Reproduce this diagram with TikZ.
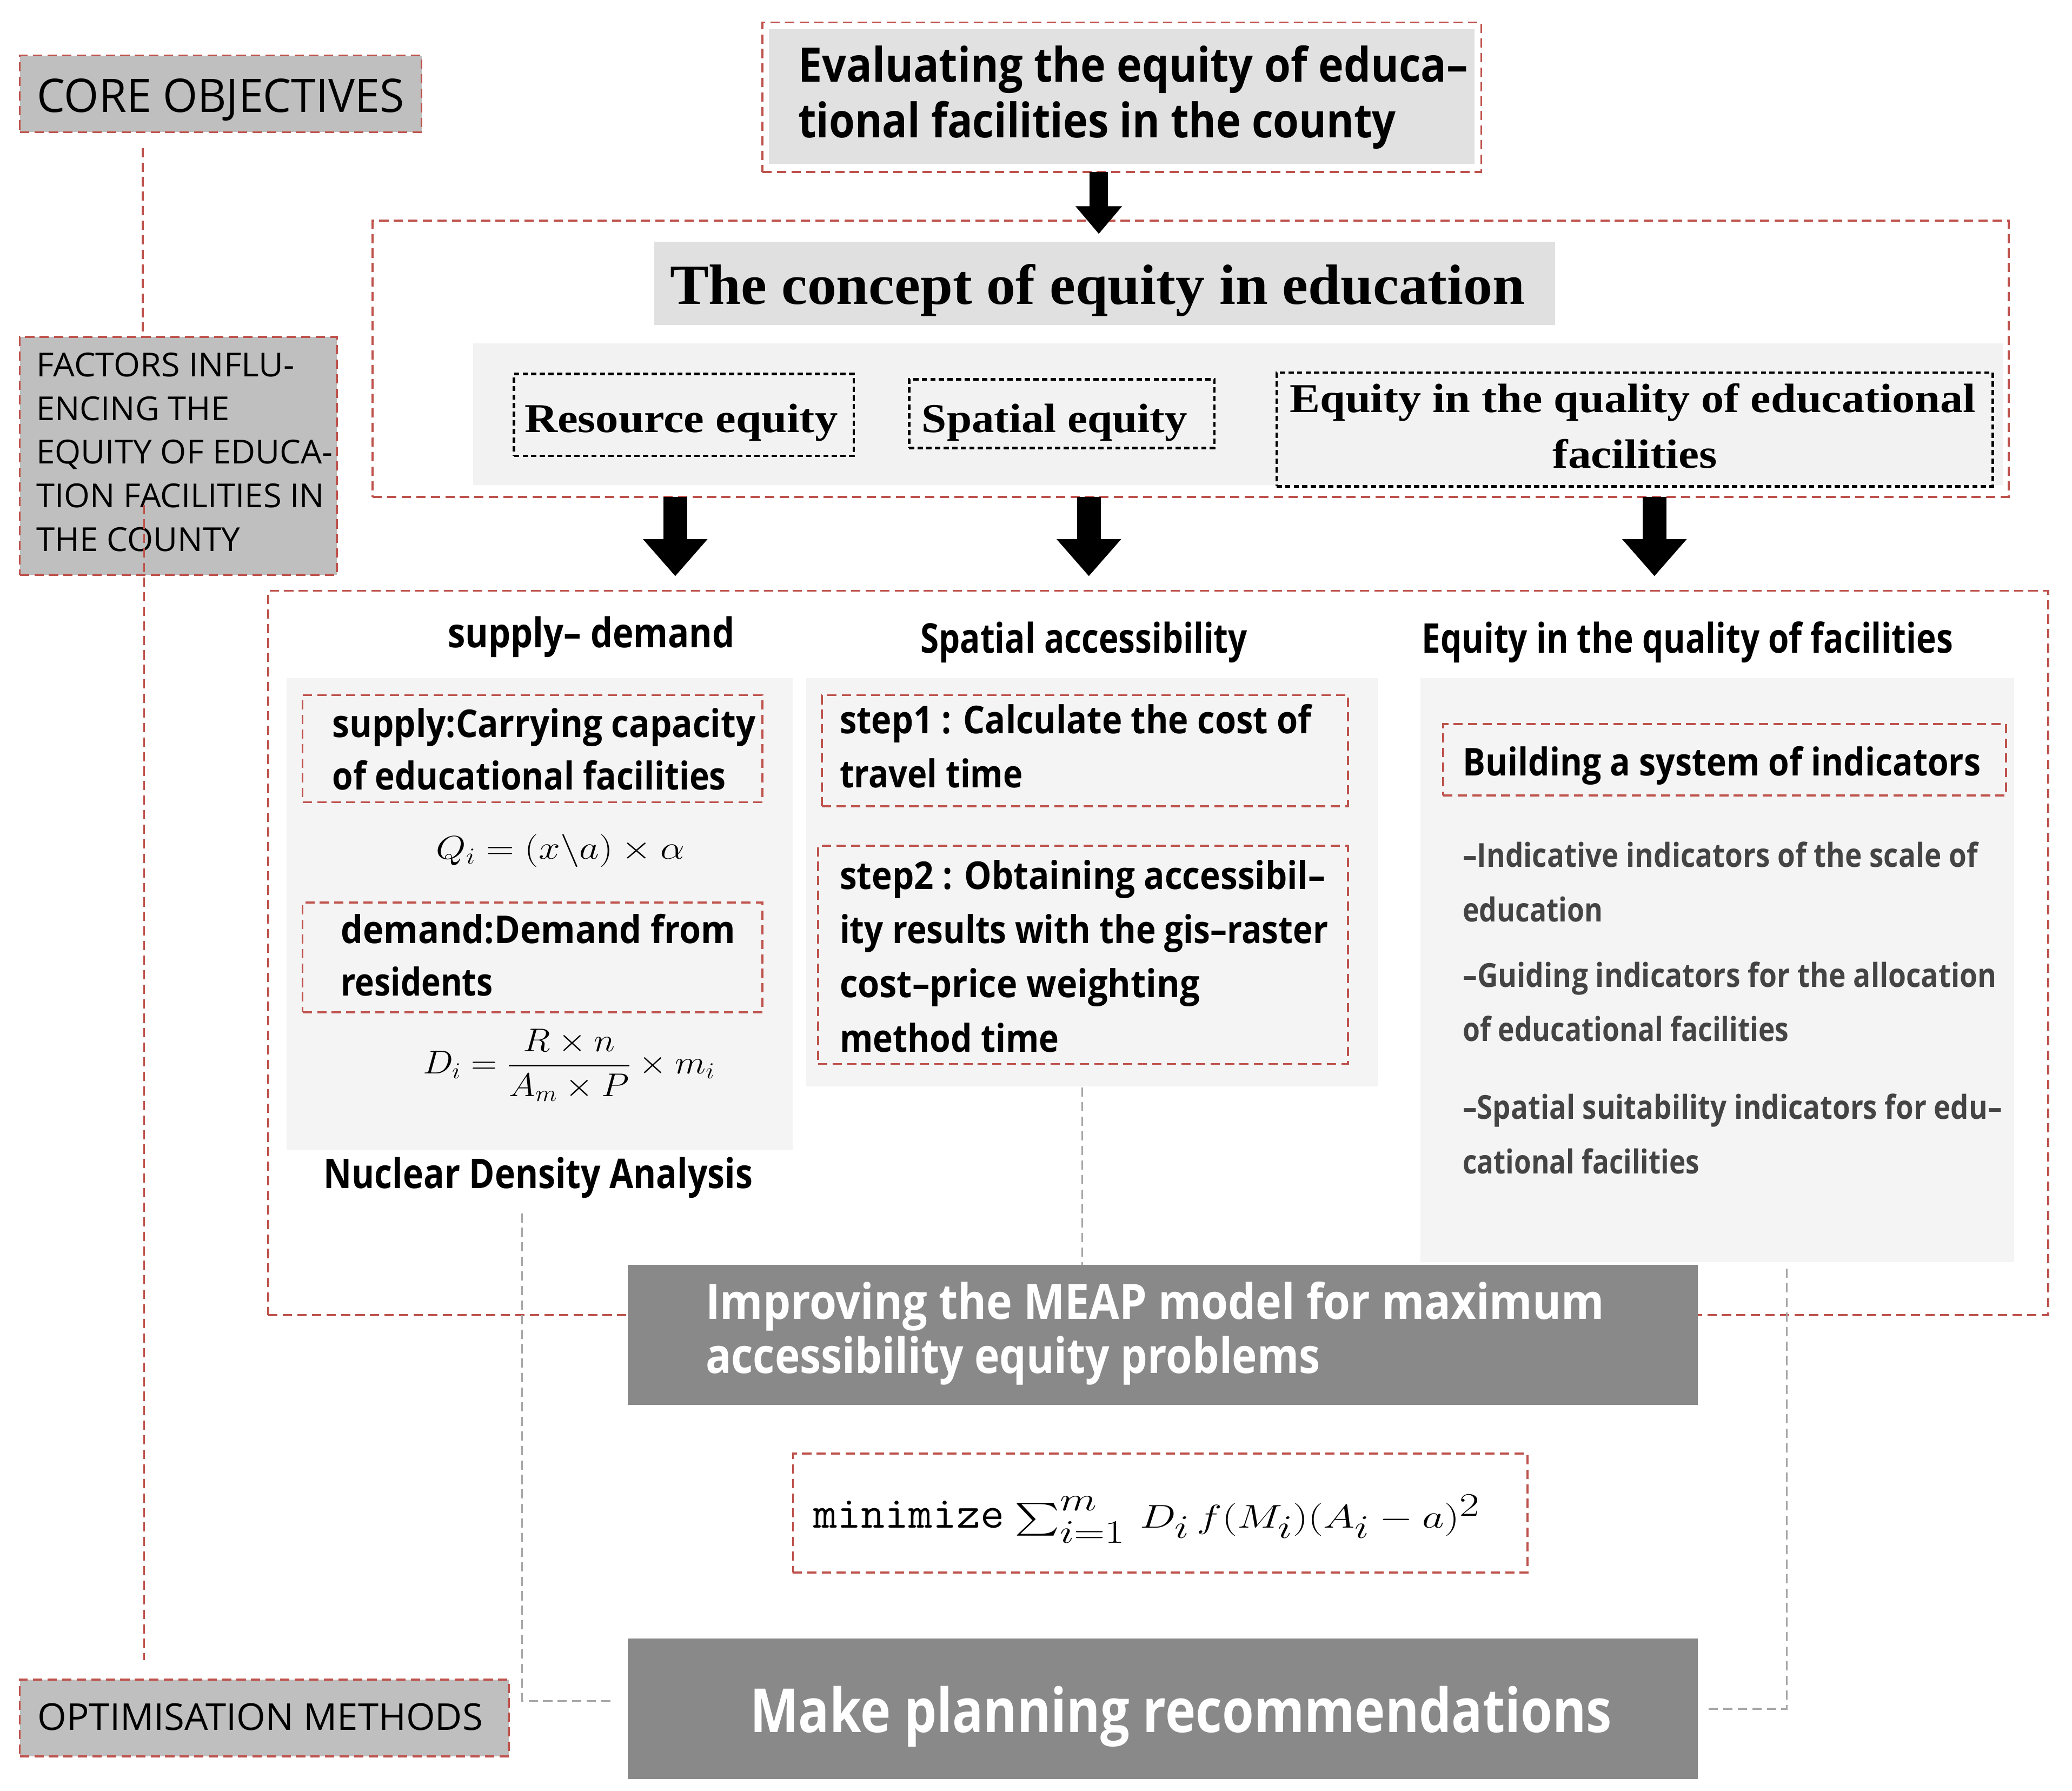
\documentclass[tikz,border=0pt]{standalone}
\usepackage{fontspec}
\usepackage{amsmath}
\usepackage{graphicx}
\usetikzlibrary{arrows.meta}
\newfontfamily\osans{Open Sans}
\newfontfamily\lserif{Liberation Serif}
\definecolor{redd}{RGB}{190,82,76}
\definecolor{labfill}{RGB}{191,191,191}
\definecolor{evalfill}{RGB}{225,225,225}
\definecolor{titlefill}{RGB}{224,224,224}
\definecolor{panelfill}{RGB}{242,242,242}
\definecolor{colfill}{RGB}{244,244,244}
\definecolor{darkfill}{RGB}{137,137,137}
\definecolor{gline}{RGB}{166,166,166}
\definecolor{indtext}{RGB}{68,68,68}
% style, name, left x, baseline y, right x, text
\newcommand\fitline[6]{\node[#1] (#2) at (#3,#4) {\resizebox{\dimexpr #5pt-#3pt\relax}{\height}{#6}};}
% style, name, x1, y1, x2, y2
\newcommand\boxat[6]{\node[#1, anchor=north west, inner sep=0pt, outer sep=0pt,
  minimum width={(#5-#3)*1pt}, minimum height={(#6-#4)*1pt}] (#2) at (#3,#4) {};}
\begin{document}
\begin{tikzpicture}[x=1pt,y=-1pt,
  txtbase/.style={anchor=base west, inner sep=0pt, outer sep=0pt},
  labA/.style={txtbase, font=\osans\fontsize{35}{40}\selectfont},
  labB/.style={txtbase, font=\osans\fontsize{25}{30}\selectfont},
  labC/.style={txtbase, font=\osans\fontsize{28}{32}\selectfont},
  evalt/.style={txtbase, font=\osans\bfseries\fontsize{36}{40}\selectfont},
  conct/.style={txtbase, font=\lserif\bfseries\fontsize{43}{48}\selectfont},
  eqt/.style={txtbase, font=\lserif\bfseries\fontsize{31}{36}\selectfont},
  colt/.style={txtbase, font=\osans\bfseries\fontsize{31}{36}\selectfont},
  bodyt/.style={txtbase, font=\osans\bfseries\fontsize{29}{34}\selectfont},
  indt/.style={txtbase, text=indtext, font=\osans\bfseries\fontsize{25}{30}\selectfont},
  meapt/.style={txtbase, text=white, font=\osans\bfseries\fontsize{37}{41}\selectfont},
  maket/.style={txtbase, text=white, font=\osans\bfseries\fontsize{46}{50}\selectfont},
  mathA/.style={txtbase, font=\fontsize{26}{30}\selectfont},
  mathB/.style={txtbase, font=\fontsize{35}{40}\selectfont},
  monot/.style={txtbase, font=\ttfamily\fontsize{34}{40}\selectfont},
  labbox/.style={draw=redd, fill=labfill, line width=1.5pt, dash pattern=on 7pt off 4pt},
  rbox/.style={draw=redd, line width=1.5pt, dash pattern=on 7pt off 4pt},
  kbox/.style={draw=black, line width=1.8pt, dash pattern=on 4pt off 2.5pt},
  fillonly/.style={fill=#1, draw=none},
  rline/.style={draw=redd, line width=1.4pt, dash pattern=on 7pt off 4pt},
  gdash/.style={draw=gline, line width=1.3pt, dash pattern=on 7pt off 4pt},
  arrowA/.style={draw=black, line width=14pt, -{Triangle[width=34pt,length=21pt]}},
  arrowB/.style={draw=black, line width=18pt, -{Triangle[width=47pt,length=28pt]}},
]
\useasboundingbox (0,0) rectangle (1568,1355);

% ---------- left labels ----------
\boxat{labbox}{core}{15}{42}{319}{100}
\fitline{labA}{tcore}{28}{85}{306}{CORE OBJECTIVES}
\boxat{labbox}{factors}{15}{255}{255}{435}
\fitline{labB}{tf1}{27.5}{285}{223}{FACTORS INFLU-}
\fitline{labB}{tf2}{27.5}{318}{173.6}{ENCING THE}
\fitline{labB}{tf3}{27.5}{351}{252}{EQUITY OF EDUCA-}
\fitline{labB}{tf4}{27.5}{384}{245.6}{TION FACILITIES IN}
\fitline{labB}{tf5}{27.5}{417}{181.6}{THE COUNTY}
\boxat{labbox}{opt}{15}{1271}{385}{1329}
\fitline{labC}{topt}{28.5}{1309}{365.4}{OPTIMISATION METHODS}

\coordinate (r1) at (108,112);
\draw[rline] (r1) -- (r1 |- factors.north);
\coordinate (r2) at (109,382);
\coordinate (r3) at (109,1256);
\draw[rline] (r2) -- (r3);

% ---------- top box ----------
\boxat{fillonly=evalfill}{evalin}{582}{22}{1116}{124}
\boxat{rbox}{evalout}{577}{17}{1121}{130}
\fitline{evalt}{te1}{604}{62}{1111}{Evaluating the equity of educa–}
\fitline{evalt}{te2}{604}{104}{1056.5}{tional facilities in the county}

% ---------- concept frame ----------
\boxat{rbox}{cframe}{282}{167}{1520}{376}
\boxat{fillonly=titlefill}{ctitle}{495}{183}{1177}{246}
\fitline{conct}{tct}{507}{230}{1154}{The concept of equity in education}
\boxat{fillonly=panelfill}{cpanel}{358}{260}{1516}{367}
\boxat{kbox}{resbox}{389}{283}{646}{345}
\fitline{eqt}{tres}{397}{327}{634}{Resource equity}
\boxat{kbox}{spabox}{688}{287}{919}{339}
\fitline{eqt}{tspa}{697.6}{327}{898.5}{Spatial equity}
\boxat{kbox}{qualbox}{966}{282}{1508}{368}
\fitline{eqt}{tq1}{976}{312}{1495}{Equity in the quality of educational}
\fitline{eqt}{tq2}{1175}{354}{1299.5}{facilities}

% ---------- arrows ----------
\coordinate (a0) at (831.5,177);
\draw[arrowA] (a0 |- evalout.south) -- (a0);
\coordinate (a1) at (511,436);
\coordinate (a2) at (824,436);
\coordinate (a3) at (1252,436);
\draw[arrowB] (a1 |- cframe.south) -- (a1);
\draw[arrowB] (a2 |- cframe.south) -- (a2);
\draw[arrowB] (a3 |- cframe.south) -- (a3);

% ---------- lower frame ----------
\boxat{rbox}{lframe}{203}{447}{1550}{995}

% column 1
\fitline{colt}{tc1}{339}{490}{556}{supply– demand}
\boxat{fillonly=colfill}{p1}{217}{513}{600}{870}
\boxat{rbox}{supbox}{229}{526}{577}{607}
\fitline{bodyt}{ts1}{251.5}{558}{571.8}{supply:Carrying capacity}
\fitline{bodyt}{ts2}{251.5}{597.5}{549.5}{of educational facilities}
\fitline{mathA}{qform}{330}{650}{518}{$Q_i=(x\backslash a)\times\alpha$}
\boxat{rbox}{dembox}{229}{683}{577}{766}
\fitline{bodyt}{td1}{258}{714}{556.6}{demand:Demand from}
\fitline{bodyt}{td2}{258}{753.6}{372.9}{residents}
\node[mathA, anchor=center] (dform) at (430.5,806)
  {\resizebox{221pt}{\height}{$\displaystyle D_i=\frac{R\times n}{A_m\times P}\times m_i$}};
\fitline{colt}{tnda}{245}{899}{569.6}{Nuclear Density Analysis}

% column 2
\fitline{colt}{tc2}{696.6}{494}{944}{Spatial accessibility}
\boxat{fillonly=colfill}{p2}{610}{513}{1043}{822}
\boxat{rbox}{st1box}{622}{526}{1020}{610}
\fitline{bodyt}{tst1a}{635.5}{555}{992.3}{step1 : Calculate the cost of}
\fitline{bodyt}{tst1b}{635.5}{595.8}{774}{travel time}
\boxat{rbox}{st2box}{619}{640}{1020}{805}
\fitline{bodyt}{tst2a}{635.5}{673}{1003}{step2 : Obtaining accessibil–}
\fitline{bodyt}{tst2b}{635.5}{714}{1005}{ity results with the gis–raster}
\fitline{bodyt}{tst2c}{635.5}{754.6}{908}{cost–price weighting}
\fitline{bodyt}{tst2d}{635.5}{796}{801.4}{method time}

% column 3
\fitline{colt}{tc3}{1076}{494}{1478}{Equity in the quality of facilities}
\boxat{fillonly=colfill}{p3}{1075}{513}{1524}{955}
\boxat{rbox}{bldbox}{1092}{548}{1518}{602}
\fitline{bodyt}{tbld}{1107}{587}{1499}{Building a system of indicators}
\fitline{indt}{ti1}{1107}{656}{1496.7}{–Indicative indicators of the scale of}
\fitline{indt}{ti2}{1107}{697.6}{1213}{education}
\fitline{indt}{ti3}{1107}{747}{1511}{–Guiding indicators for the allocation}
\fitline{indt}{ti4}{1107}{788}{1353.8}{of educational facilities}
\fitline{indt}{ti5}{1107}{847}{1515}{–Spatial suitability indicators for edu–}
\fitline{indt}{ti6}{1107}{888}{1286}{cational facilities}

% ---------- bottom ----------
\boxat{fillonly=darkfill}{meap}{475}{957}{1285}{1063}
\fitline{meapt}{tm1}{534}{998}{1214}{Improving the MEAP model for maximum}
\fitline{meapt}{tm2}{534}{1039}{999}{accessibility equity problems}
\boxat{rbox}{minbox}{600}{1100}{1156}{1190}
\fitline{monot}{tmin}{615.6}{1156}{760}{minimize}
\fitline{mathB}{tminf}{768}{1156}{1120}{$\sum_{\lower4pt\hbox{$\scriptstyle i=1$}}^{\raise4pt\hbox{$\scriptstyle m$}}\,D_i\,f(M_i)(A_i-a)^2$}
\boxat{fillonly=darkfill}{make}{475}{1240}{1285}{1346}
\fitline{maket}{tmake}{567.6}{1311}{1219.8}{Make planning recommendations}

% ---------- grey dashed connectors ----------
\coordinate (g1a) at (395,918);
\coordinate (g1b) at (395,1287);
\draw[gdash] (g1a) -- (g1b) -- ([xshift=-11pt]g1b -| make.west);
\coordinate (g2a) at (819,823);
\draw[gdash] (g2a) -- (g2a |- meap.north);
\coordinate (g3a) at (1352,960);
\coordinate (g3b) at (1352,1293);
\draw[gdash] (g3a) -- (g3b) -- ([xshift=6pt]g3b -| make.east);
\end{tikzpicture}
\end{document}
